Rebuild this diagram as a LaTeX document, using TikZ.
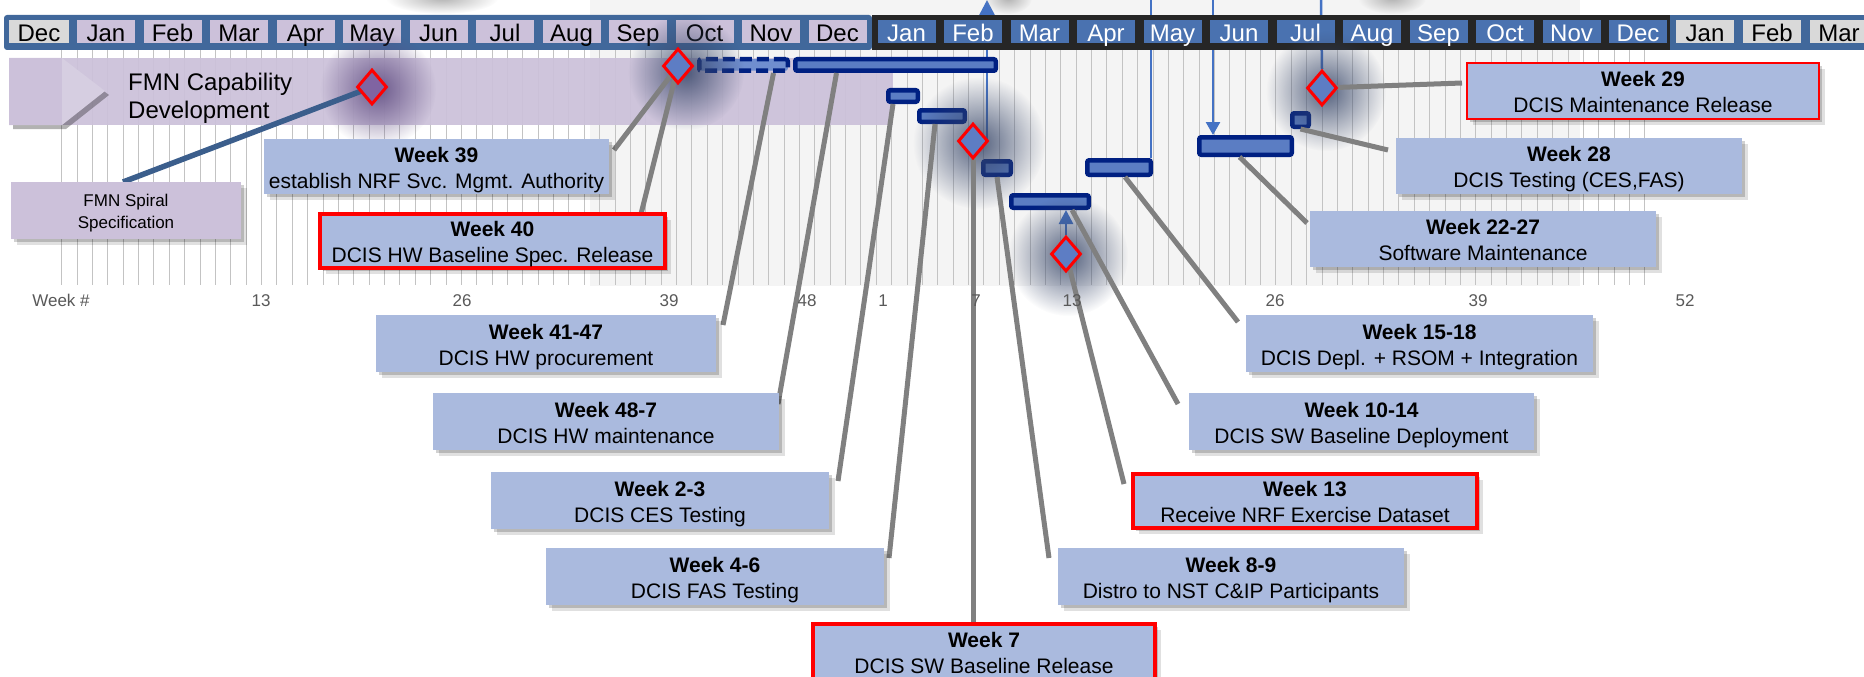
\documentclass[tikz,border=0pt]{standalone}
\usepackage{fontspec}
\setmainfont{Liberation Sans}
\usetikzlibrary{shapes.geometric,arrows.meta,calc,shadows,fadings}
\definecolor{boxblue}{RGB}{170,186,222}
\definecolor{lav}{RGB}{204,193,218}
\definecolor{steel}{RGB}{65,104,155}
\definecolor{darkfr}{RGB}{38,38,38}
\definecolor{cellblue}{RGB}{74,114,176}
\definecolor{cellgray}{RGB}{217,217,217}
\definecolor{navy}{RGB}{0,32,130}
\definecolor{barfill}{RGB}{91,125,195}
\definecolor{dashfill}{RGB}{112,142,207}
\definecolor{diafill}{RGB}{93,125,196}
\definecolor{diapurp}{RGB}{128,100,162}
\definecolor{conngray}{RGB}{128,128,128}
\definecolor{thinblue}{RGB}{68,114,196}
\definecolor{fmnline}{RGB}{59,94,140}
\definecolor{gridc}{RGB}{195,195,195}
\definecolor{lightbg}{RGB}{244,244,244}
\definecolor{glowc}{RGB}{55,70,105}
\definecolor{glowp}{RGB}{90,70,125}
\definecolor{wklabel}{RGB}{89,89,89}
\tikzfading[name=glowfade, inner color=transparent!15, outer color=transparent!100]
\pgfdeclarelayer{bg}\pgfdeclarelayer{thin}\pgfdeclarelayer{hdr}\pgfdeclarelayer{glow}\pgfdeclarelayer{conn}
\pgfsetlayers{bg,thin,hdr,glow,conn,main}
\tikzset{
 softshadow/.style={drop shadow={shadow xshift=3pt,shadow yshift=-3pt,opacity=.18,fill=black},
                    drop shadow={shadow xshift=6pt,shadow yshift=-6pt,opacity=.12,fill=black}},
 wbox/.style={rectangle, fill=boxblue, inner sep=0pt, outer sep=0pt, minimum width=346pt, minimum height=57pt, softshadow},
 redbox/.style={wbox, draw=red, line width=4pt},
 thinred/.style={wbox, draw=red, line width=2pt},
 wtitle/.style={font=\fontsize{21}{26}\selectfont\bfseries, anchor=base, inner sep=0pt},
 wtext/.style={font=\fontsize{21}{26}\selectfont, anchor=base, inner sep=0pt},
 bar/.style={rectangle, rounded corners=2pt, draw=navy, line width=4.5pt, fill=barfill, inner sep=0pt},
 dbar/.style={bar, dash pattern=on 12pt off 5pt, fill=dashfill},
 dia/.style={diamond, draw=red, line width=3pt, fill=diafill, inner sep=0pt, minimum width=30pt, minimum height=35pt},
 conn/.style={draw=conngray, line width=5pt},
 fmnl/.style={draw=fmnline, line width=5.5pt},
 thinl/.style={draw=thinblue, line width=2.5pt},
 mon/.style={font=\fontsize{24}{24}\selectfont, anchor=base, inner sep=0pt},
 wk/.style={font=\fontsize{17}{17}\selectfont, text=wklabel, anchor=base, inner sep=0pt},
}
\newcommand\mkbox[5]{%
  \node[#1] (#2) at (#3) {};
  \node[wtitle] (#2a) at ($(#2.center)+(0,-4.5)$) {#4};
  \node[wtext] (#2b) at ($(#2.center)+(0,21.5)$) {#5};
}
\begin{document}
\begin{tikzpicture}[x=1pt,y=-1pt]
\useasboundingbox (0,0) rectangle (1864,677);

\begin{pgfonlayer}{bg}
\fill[white] (0,0) rectangle (1864,677);
\fill[lightbg] (590,0) rectangle (1580,286);
\foreach \i in {0,...,103} \draw[gridc, line width=0.9pt] ({61.7+\i*15.37},50) -- ({61.7+\i*15.37},285);
\fill[lav, fill opacity=.93] (9,58) rectangle (893,125);
\fill[lav!80!white, drop shadow={shadow xshift=4pt,shadow yshift=-4pt,opacity=.3,fill=black}]
  (9,58) -- (62,58) -- (105,91) -- (62,125) -- (9,125) -- cycle;
\fill[lav] (9,58) rectangle (62,125);
\end{pgfonlayer}

% header
\begin{pgfonlayer}{hdr}
\fill[steel, rounded corners=3pt] (4,15) rectangle (872,50);
\fill[darkfr] (872,15) rectangle (1670,50);
\fill[steel] (1670,15) rectangle (1875,50);
\fill[cellgray] (9,20.5) rectangle (69,43.5);
\node[mon] (m0) at (39,41.5) {Dec};
\foreach \m [count=\i from 0] in {Jan,Feb,Mar,Apr,May,Jun,Jul,Aug,Sep,Oct,Nov,Dec}{
  \fill[lav] ({77+\i*66.5},20.5) rectangle ++(58,23);
  \node[mon] (mA\i) at ({106+\i*66.5},41.5) {\m};
  \fill[cellblue] ({877.5+\i*66.5},20.5) rectangle ++(58,23);
  \node[mon, text=white] (mB\i) at ({906.5+\i*66.5},41.5) {\m};
}
\foreach \m/\x [count=\i] in {Jan/1676,Feb/1743,Mar/1810}{
  \fill[cellgray] (\x,20.5) rectangle ++(58,23);
  \node[mon] (mC\i) at (\x+29,41.5) {\m};
}
% bars
\node[dbar, minimum width=88.5pt, minimum height=11.5pt] (bdash) at (743.5,65) {};
\node[bar, minimum width=200.5pt, minimum height=11.5pt] (b487) at (895.5,65) {};
\node[bar, minimum width=29.5pt, minimum height=11.5pt] (b23) at (903,96) {};
\node[bar, minimum width=45.5pt, minimum height=11.5pt] (b46) at (942,116) {};
\node[bar, minimum width=27.5pt, minimum height=13.5pt] (b89) at (997,168) {};
\node[bar, minimum width=77.5pt, minimum height=12.5pt] (b1014) at (1050,201.5) {};
\node[bar, minimum width=63.5pt, minimum height=14.5pt] (b1518) at (1119,167.5) {};
\node[bar, minimum width=92.5pt, minimum height=17.5pt] (b2227) at (1245.5,146) {};
\node[bar, minimum width=16.5pt, minimum height=13.5pt] (b28) at (1300.5,120) {};
\end{pgfonlayer}

% texts on background
\node[anchor=base west, font=\fontsize{24}{28}\selectfont, inner sep=0pt] (fmnA) at (128,90) {FMN Capability};
\node[anchor=base west, font=\fontsize{24}{28}\selectfont, inner sep=0pt] (fmnB) at (128,118) {Development};
\node[wk] (wkh) at (61,306) {Week \#};
\foreach \x/\t [count=\i] in {261/13,462/26,669/39,807/48,883/1,976/7,1072/13,1275/26,1478/39,1685/52}
  \node[wk] (wl\i) at (\x,306) {\t};

% diamonds
\node[dia, fill=diapurp] (dmay) at (372,87) {};
\node[dia] (d39) at (678,66) {};
\node[dia] (d7) at (973,141) {};
\node[dia] (d13) at (1066,254) {};
\node[dia] (d29) at (1322,88) {};

% boxes
\node[wbox, fill=lav, minimum width=230pt, minimum height=57pt] (fmn) at (126,210.5) {};
\node[font=\fontsize{17}{17}\selectfont, anchor=base, inner sep=0pt] (fmna) at ($(fmn.center)+(0,-4.5)$) {FMN Spiral};
\node[font=\fontsize{17}{17}\selectfont, anchor=base, inner sep=0pt] (fmnb) at ($(fmn.center)+(0,17.5)$) {Specification};
\mkbox{wbox, minimum width=345pt, minimum height=55pt}{w39}{436.5,166.5}{Week 39}{establish NRF Svc. Mgmt. Authority}
\mkbox{redbox, minimum width=345pt, minimum height=54pt}{w40}{492.5,241}{Week 40}{DCIS HW Baseline Spec. Release}
\mkbox{wbox, minimum width=340pt}{w4147}{546,343.5}{Week 41-47}{DCIS HW procurement}
\mkbox{wbox, minimum width=346pt}{w487}{606,421.5}{Week 48-7}{DCIS HW maintenance}
\mkbox{wbox, minimum width=338pt}{w23}{660,500.5}{Week 2-3}{DCIS CES Testing}
\mkbox{wbox, minimum width=338pt}{w46}{715,576.5}{Week 4-6}{DCIS FAS Testing}
\mkbox{wbox, minimum width=346pt}{w89}{1231,576.5}{Week 8-9}{Distro to NST C\&IP Participants}
\mkbox{redbox, minimum width=344pt, minimum height=54pt}{w13}{1305,501}{Week 13}{Receive NRF Exercise Dataset}
\mkbox{wbox, minimum width=345pt}{w1014}{1361.5,421.5}{Week 10-14}{DCIS SW Baseline Deployment}
\mkbox{wbox, minimum width=347pt}{w1518}{1419.5,343.5}{Week 15-18}{DCIS Depl. + RSOM + Integration}
\mkbox{wbox, minimum width=346pt, minimum height=56pt}{w2227}{1483,239}{Week 22-27}{Software Maintenance}
\mkbox{wbox, minimum width=346pt, minimum height=56pt}{w28}{1569,166}{Week 28}{DCIS Testing (CES,FAS)}
\mkbox{thinred, minimum width=352pt, minimum height=56pt}{w29}{1643,91}{Week 29}{DCIS Maintenance Release}
\node[redbox, minimum width=342pt, minimum height=70pt] (w7) at (984,659) {};
\node[wtitle] (w7a) at ($(w7.north)+(0,23)$) {Week 7};
\node[wtext] (w7b) at ($(w7.north)+(0,49)$) {DCIS SW Baseline Release};

% glows
\begin{pgfonlayer}{glow}
\fill[glowp, path fading=glowfade] (378,89) circle[radius=58pt];
\fill[glowc, path fading=glowfade] (686,72) circle[radius=58pt];
\fill[glowc, path fading=glowfade] (979,143) circle[radius=66pt];
\fill[glowc, path fading=glowfade] (1068,256) circle[radius=60pt];
\fill[glowc, path fading=glowfade] (1326,91) circle[radius=60pt];
\fill[black!35, path fading=glowfade] (442,-2) ellipse[x radius=56pt, y radius=16pt];
\fill[black!35, path fading=glowfade] (1008,-2) ellipse[x radius=24pt, y radius=16pt];
\fill[black!35, path fading=glowfade] (1392,-2) ellipse[x radius=34pt, y radius=16pt];
\end{pgfonlayer}

% thin blue lines
\begin{pgfonlayer}{thin}
\coordinate (t7) at (987,0);
\coordinate (t15) at (1151,0);
\coordinate (t22) at (1213,0);
\coordinate (t29) at (1321,0);
\draw[thinl, -{Triangle[width=15pt,length=15pt]}] (t7 |- d7.east) -- (t7);
\draw[thinl] (t15) -- (t15 |- b1518.north);
\draw[thinl, -{Triangle[width=14pt,length=13pt]}] (t22) -- (t22 |- b2227.north);
\draw[thinl] (t29) -- (d29.north);
\draw[thinl, -{Triangle[width=14pt,length=14pt]}] (d13.north) -- (d13.north |- b1014.south);
\end{pgfonlayer}

% connectors
\begin{pgfonlayer}{conn}
\draw[fmnl] ([xshift=-3pt]fmn.north) -- (dmay.center);
\draw[conn] ([shift={(5,11)}]w39.north east) -- (d39.center);
\draw[conn] ([xshift=-24pt]w40.north east) -- (d39.center);
\draw[conn] ([shift={(7,10)}]w4147.north east) -- ([xshift=30pt]bdash.south);
\draw[conn] ([shift={(-1,11)}]w487.north east) -- ([xshift=-59pt]b487.south);
\draw[conn] ([shift={(9,9)}]w23.north east) -- ([xshift=-10pt]b23.south);
\draw[conn] ([shift={(5,10)}]w46.north east) -- ([xshift=-7pt]b46.south);
\draw[conn] (d7.center |- w7.north) -- (d7.center);
\draw[conn] ([shift={(-9,10)}]w89.north west) -- (b89.south);
\draw[conn] ([shift={(-9,10)}]w13.north west) -- (d13.center);
\draw[conn] ([shift={(-11,11)}]w1014.north west) -- ([xshift=22pt]b1014.south);
\draw[conn] ([shift={(-8,7)}]w1518.north west) -- ([xshift=6pt]b1518.south);
\draw[conn] ([shift={(-3,12)}]w2227.north west) -- ([xshift=-6pt]b2227.south);
\draw[conn] ([shift={(-8,12)}]w28.north west) -- (b28.south);
\draw[conn] ([shift={(-5,20)}]w29.north west) -- (d29.center);
\end{pgfonlayer}
\end{tikzpicture}
\end{document}
